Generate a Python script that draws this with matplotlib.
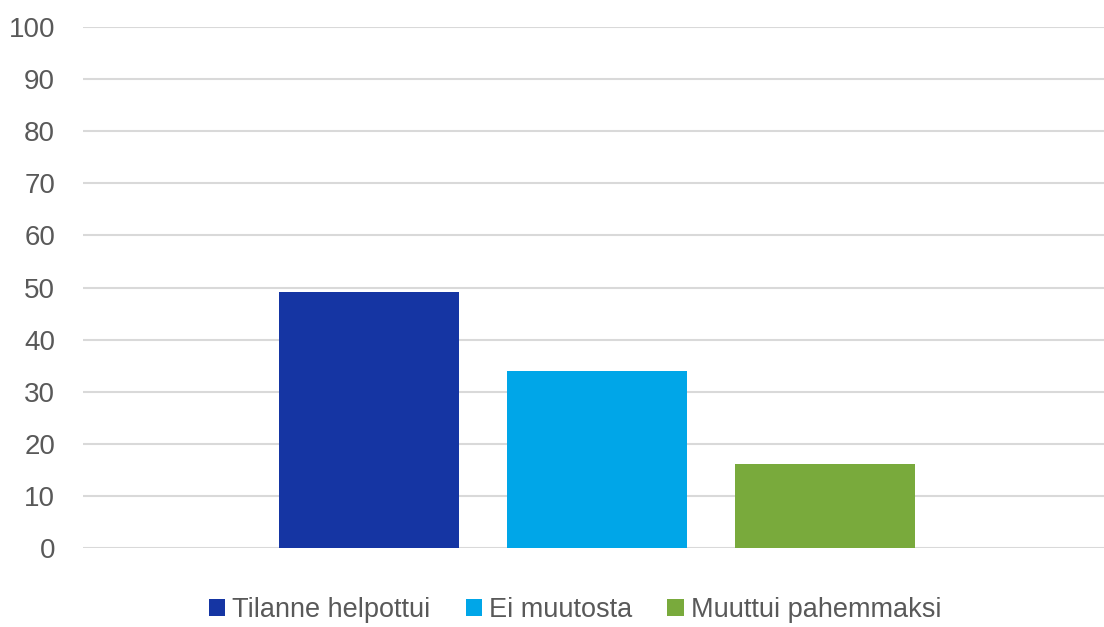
import matplotlib
matplotlib.use("Agg")
import matplotlib.pyplot as plt
from matplotlib import font_manager

series = ["Tilanne helpottui", "Ei muutosta", "Muuttui pahemmaksi"]
values = [49.1, 34.0, 16.1]
colors = ["#1535A3", "#00A6E8", "#79AA3C"]
yticks = [0, 10, 20, 30, 40, 50, 60, 70, 80, 90, 100]

names = {f.name for f in font_manager.fontManager.ttflist}
fam = "Liberation Sans Narrow" if "Liberation Sans Narrow" in names else "Liberation Sans"
plt.rcParams["font.family"] = [fam, "DejaVu Sans"]

fig = plt.figure(figsize=(11.04, 6.27), dpi=100)
ax = fig.add_axes([83/1104, 1-548/627, 1-83/1104, (548-27)/627])

for i, (s, v, c) in enumerate(zip(series, values, colors)):
    ax.bar(i, v, width=0.789, color=c, label=s, zorder=3)

ax.set_ylim(0, 100)
ax.set_xlim(-1.254, 3.224)
ax.set_yticks(yticks)
ax.set_yticklabels([str(t) for t in yticks])
ax.set_xticks([])
ax.yaxis.grid(True, color="#D9D9D9", linewidth=1.5, zorder=0)
for sp in ax.spines.values():
    sp.set_visible(False)
ax.tick_params(axis="y", length=0, pad=20, labelsize=20, labelcolor="#595959")

leg = fig.legend(loc="center", bbox_to_anchor=(575/1104, 1-610/627), ncol=3, frameon=False,
                 fontsize=19.5, labelcolor="#595959", handlelength=0.6, handleheight=0.6,
                 handletextpad=0.26, columnspacing=1.3)
fig.savefig("out.png", dpi=100)
